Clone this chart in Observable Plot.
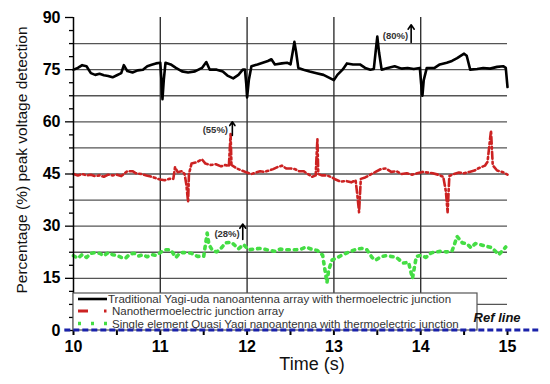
<!DOCTYPE html>
<html><head><meta charset="utf-8">
<script src="https://cdn.jsdelivr.net/npm/d3@7"></script>
<script src="https://cdn.jsdelivr.net/npm/@observablehq/plot@0.6"></script>
<style>body{margin:0;background:#fff;} svg{display:block}</style>
</head><body><div id="chart"></div>
<script>
// Traditional Yagi-uda nanoantenna array with thermoelectric junction: [time, %]
const black = [[10.00,75],[10.05,75.5],[10.10,76.3],[10.15,76],[10.20,74],[10.25,73.5],[10.30,73.8],[10.35,73.4],[10.40,73.2],[10.45,72.8],[10.50,73.4],[10.55,74],[10.58,76.3],[10.62,74.6],[10.68,74.2],[10.74,74.8],[10.80,75],[10.85,76],[10.90,76.4],[10.95,76.8],[11.00,77],[11.013,72],[11.025,66.5],[11.04,72],[11.06,77],[11.12,76.5],[11.18,75.5],[11.25,74.5],[11.32,74.2],[11.40,74.5],[11.48,75.5],[11.53,77.2],[11.57,75],[11.65,75],[11.72,74.5],[11.78,73.2],[11.84,72.5],[11.90,73.5],[11.95,75],[11.975,75],[11.99,71],[12.00,67],[12.02,72],[12.05,76],[12.12,76.5],[12.18,77],[12.24,77.5],[12.28,78],[12.32,76.5],[12.40,76.8],[12.46,77],[12.50,76.5],[12.525,80],[12.545,83],[12.565,80],[12.59,75.5],[12.65,75],[12.72,74.5],[12.80,74],[12.88,73.5],[12.96,72.5],[13.00,72],[13.04,73.5],[13.10,75],[13.15,76.8],[13.22,76.5],[13.30,76.5],[13.36,75.5],[13.42,75],[13.46,75.2],[13.48,80],[13.50,84.5],[13.52,80],[13.55,75],[13.62,75.5],[13.70,76],[13.78,75.3],[13.85,75.5],[13.92,75.2],[13.99,75.5],[14.005,71],[14.02,67.5],[14.035,72],[14.07,75.5],[14.16,75.5],[14.22,76.5],[14.30,77],[14.36,77.5],[14.42,78.3],[14.50,79.6],[14.53,79],[14.57,75],[14.65,75.2],[14.72,75.5],[14.80,75.3],[14.88,75.8],[14.95,76],[14.98,75.5],[15.00,70]];
// Nanothermoelectric junction array
const red = [[10.00,45],[10.05,44.6],[10.10,45],[10.15,44.6],[10.20,44.8],[10.25,44.4],[10.30,44.6],[10.35,44.2],[10.40,44.8],[10.45,44.6],[10.50,44.8],[10.55,44.4],[10.62,45.8],[10.68,45.8],[10.72,45.2],[10.78,45],[10.84,44.6],[10.90,44.2],[10.95,43.8],[11.00,43.4],[11.05,43.2],[11.10,43.6],[11.15,43.6],[11.17,47],[11.20,45.5],[11.25,45.8],[11.28,45],[11.30,42],[11.32,37],[11.33,45],[11.36,48],[11.42,48.4],[11.48,49.2],[11.52,48],[11.58,47.6],[11.64,47.8],[11.70,47.2],[11.75,47.6],[11.79,47.2],[11.80,52],[11.81,56.5],[11.82,47.6],[11.88,46.6],[11.94,46],[12.00,45.4],[12.05,45],[12.10,45.4],[12.15,45.8],[12.20,45.6],[12.25,46],[12.30,46.4],[12.35,47],[12.40,47.4],[12.45,46.6],[12.50,46.6],[12.55,46.4],[12.60,45.8],[12.65,45.8],[12.70,45],[12.75,44.2],[12.79,44.6],[12.80,50],[12.81,55],[12.82,45],[12.86,44.6],[12.92,44.6],[12.98,44],[13.02,43.4],[13.08,42.8],[13.14,43],[13.20,42.6],[13.25,43.2],[13.27,39],[13.29,34],[13.31,43.6],[13.36,44],[13.42,44.8],[13.48,45.6],[13.54,46.4],[13.60,46.6],[13.66,45.6],[13.72,45.8],[13.78,45],[13.84,45.2],[13.90,44.8],[13.96,45.2],[14.02,45.6],[14.08,45.4],[14.14,45.2],[14.20,44.8],[14.26,44.2],[14.29,40],[14.31,34],[14.33,44.4],[14.38,45],[14.44,45.4],[14.50,45.2],[14.56,45.6],[14.62,46],[14.66,46.6],[14.70,47],[14.74,47.4],[14.77,48.5],[14.79,53],[14.81,57.5],[14.83,47.5],[14.88,46],[14.94,45.6],[15.00,44.8]];
// Single element Quasi Yagi nanoantenna with thermoelectric junction
const green = [[10.00,21.5],[10.05,20.8],[10.10,21.8],[10.15,21],[10.20,22.2],[10.25,22.4],[10.30,22.2],[10.35,21.5],[10.40,22.4],[10.45,21.8],[10.50,21.6],[10.55,21],[10.60,20.8],[10.65,22],[10.70,22.2],[10.75,21.4],[10.80,21.8],[10.85,21.2],[10.90,21.8],[10.95,21.6],[11.00,22.4],[11.05,23.2],[11.12,23.2],[11.18,21],[11.23,22.4],[11.30,22.4],[11.36,22.2],[11.43,21.3],[11.50,21.3],[11.54,28],[11.56,24.8],[11.60,23],[11.65,22.6],[11.70,23.6],[11.75,25.2],[11.82,25.4],[11.90,23.5],[11.96,24.7],[12.02,23.2],[12.08,23.4],[12.14,23.6],[12.20,23.4],[12.26,23],[12.32,22.8],[12.38,23.4],[12.44,23.2],[12.50,23.2],[12.56,23.2],[12.62,23.4],[12.68,24],[12.74,23.4],[12.81,23],[12.87,21.7],[12.92,13.7],[12.94,17.4],[12.98,20.3],[13.03,20.8],[13.08,21.5],[13.14,22.2],[13.20,22.8],[13.26,23.4],[13.32,23.6],[13.38,23.2],[13.44,21],[13.48,20.2],[13.54,21.2],[13.60,21.5],[13.66,21.3],[13.72,21],[13.80,19.4],[13.86,19.6],[13.905,15],[13.95,21.3],[14.00,21.6],[14.06,21],[14.12,22.3],[14.18,22.6],[14.24,22.8],[14.30,22.6],[14.36,22.8],[14.42,27],[14.48,25.2],[14.53,25],[14.58,23.8],[14.63,25],[14.70,24.6],[14.76,24.2],[14.82,23.8],[14.90,21.8],[14.98,24]];

const seriesNames = [
  "Traditional Yagi-uda nanoantenna array with thermoelectric junction",
  "Nanothermoelectric junction array",
  "Single element Quasi Yagi nanoantenna with thermoelectric junction"
];
const seriesColors = ["#000000", "#cc2222", "#44dd44"];
const yMajor = [0, 15, 30, 45, 60, 75, 90];
const yMinor = [3.75,7.5,11.25,18.75,22.5,26.25,33.75,37.5,41.25,48.75,52.5,56.25,63.75,67.5,71.25,78.75,82.5,86.25];
const xMajor = [10, 11, 12, 13, 14, 15];
const xMinor = [10.5, 11.5, 12.5, 13.5, 14.5];
const hGrid = [7.5, 15, 22.5, 30, 37.5, 45, 52.5, 60, 67.5, 75, 82.5];
const vGrid = [11, 12, 13, 14];
const annotations = [
  {label: "(80%)", t: 13.855, v: 84.8, ax: 13.89, y1: 82.8, y2: 87.9},
  {label: "(55%)", t: 11.78, v: 57.8, ax: 11.83, y1: 56.1, y2: 60.0},
  {label: "(28%)", t: 11.915, v: 27.9, ax: 11.95, y1: 26.2, y2: 30.6}
];
const refLine = [9.9, 15.36];
const yTitle = "Percentage (%) peak voltage detection";
const xTitle = "Time (s)";
const FONT = "'Liberation Sans', Arial, sans-serif";

const chart = Plot.plot({
  width: 550, height: 384,
  marginLeft: 73, marginRight: 43, marginTop: 17, marginBottom: 54,
  style: {fontFamily: FONT, background: "#fff", color: "#000"},
  x: {domain: [10, 15]},
  y: {domain: [0, 90]},
  marks: [
    Plot.ruleY(hGrid, {stroke: "#555", strokeWidth: 1.3}),
    Plot.ruleX(vGrid, {stroke: "#333", strokeWidth: 1.4}),
    Plot.line(green, {x: d => d[0], y: d => d[1], stroke: seriesColors[2], strokeWidth: 3.6, strokeDasharray: "2.5,5"}),
    Plot.line(red, {x: d => d[0], y: d => d[1], stroke: seriesColors[1], strokeWidth: 2.6, strokeDasharray: "7,3,2,3"}),
    Plot.line(black, {x: d => d[0], y: d => d[1], stroke: seriesColors[0], strokeWidth: 2.6}),
    Plot.text(annotations, {x: "t", y: "v", text: "label", textAnchor: "end", fontWeight: "bold", fontSize: 9.5, fill: "#333"}),
    Plot.arrow(annotations, {x1: "ax", y1: "y1", x2: "ax", y2: "y2", stroke: "#000", strokeWidth: 1.6, headLength: 5, headAngle: 70}),
    Plot.ruleX([10], {stroke: "#000", strokeWidth: 1.5}),
    Plot.axisY(yMajor, {tickSize: 8, tickPadding: 5, fontSize: 16, fontWeight: "bold", label: null, strokeWidth: 1.3}),
    Plot.axisY(yMinor, {tickSize: 4, tickFormat: () => "", label: null, strokeWidth: 1.3}),
    Plot.axisX(xMajor, {tickSize: 5, tickPadding: 5, fontSize: 16, fontWeight: "bold", label: null, strokeWidth: 2}),
    Plot.axisX(xMinor, {tickSize: 5, tickFormat: () => "", label: null, strokeWidth: 2})
  ]
});

const svg = d3.select(chart);
const sx = chart.scale("x"), sy = chart.scale("y");
// axis titles
svg.append("text").attr("transform", `translate(22,160) rotate(-90)`).attr("text-anchor", "middle")
  .attr("dy", "0.35em").attr("font-family", FONT).attr("font-size", 15.5).attr("fill", "#111").text(yTitle);
svg.append("text").attr("x", 312).attr("y", 364).attr("text-anchor", "middle")
  .attr("dy", "0.35em").attr("font-family", FONT).attr("font-size", 18).attr("fill", "#111").text(xTitle);
// legend box
const lg = svg.append("g").attr("font-family", FONT);
const lx0 = sx.apply(10), ly1 = sy.apply(0);
lg.append("rect").attr("x", lx0).attr("y", ly1 - 37).attr("width", 404).attr("height", 37)
  .attr("fill", "#fff").attr("stroke", "#555").attr("stroke-width", 1.2);
const rowsY = [ly1 - 31, ly1 - 19, ly1 - 6.5];
const dash = [null, "10,16,2.5,40", "3,10"];
const widths = [2.6, 3, 3.5];
seriesNames.forEach((name, i) => {
  lg.append("line").attr("x1", lx0 + 5).attr("x2", lx0 + 34).attr("y1", rowsY[i]).attr("y2", rowsY[i])
    .attr("stroke", seriesColors[i]).attr("stroke-width", widths[i]).attr("stroke-dasharray", dash[i]);
  lg.append("text").attr("x", lx0 + (i === 0 ? 35 : 39)).attr("y", rowsY[i]).attr("dy", "0.35em")
    .attr("text-anchor", "start").attr("font-size", 11.5).attr("fill", "#333").text(name);
});
// reference line at 0
svg.append("line").attr("x1", sx.apply(refLine[0])).attr("x2", sx.apply(refLine[1]))
  .attr("y1", sy.apply(0)).attr("y2", sy.apply(0))
  .attr("stroke", "#1a22aa").attr("stroke-width", 3).attr("stroke-dasharray", "6,3");
svg.append("text").attr("x", sx.apply(14.5) + 10).attr("y", sy.apply(0) - 8).attr("text-anchor", "start")
  .attr("font-family", FONT).attr("font-size", 13).attr("font-weight", "bold").attr("font-style", "italic")
  .attr("fill", "#111").text("Ref line");

document.getElementById("chart").appendChild(chart);
</script>
</body></html>
